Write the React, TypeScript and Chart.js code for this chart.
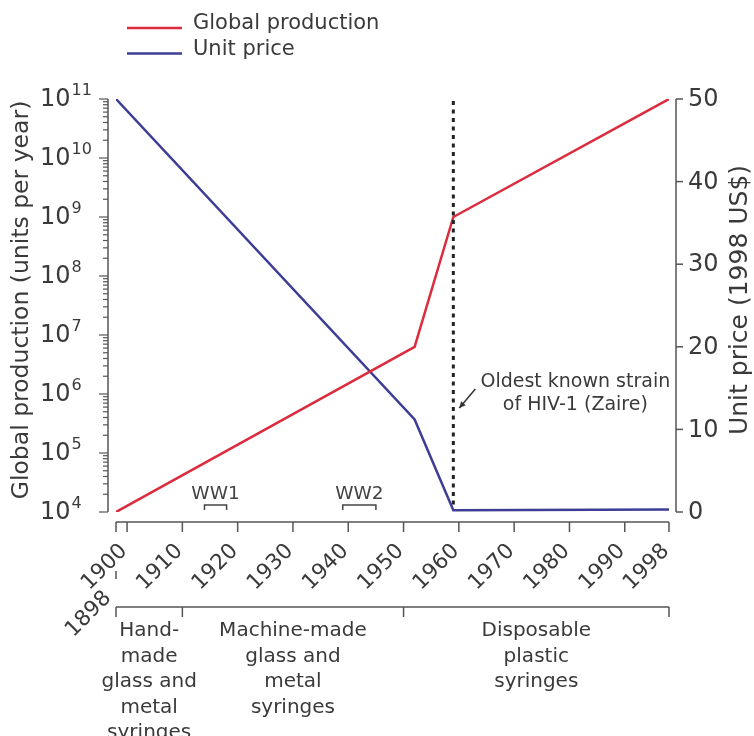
import React, { useEffect, useRef } from 'react';
import { Chart, registerables } from 'chart.js';

Chart.register(...registerables);

// ---- data ----
const years = [1898, 1952, 1959, 1998];
const productionValues = [1e4, 6.3e6, 1e9, 1e11];
const priceValues = [50, 11.2, 0.2, 0.3];
const seriesLabels = ['Global production', 'Unit price'];
const seriesColors = ['#dc2b3d', '#3d3d96'];

const xTickValues = [1898, 1900, 1910, 1920, 1930, 1940, 1950, 1960, 1970, 1980, 1990, 1998];
const xTickLabels = ['1898', '1900', '1910', '1920', '1930', '1940', '1950', '1960', '1970', '1980', '1990', '1998'];
const leftTickExponents = [4, 5, 6, 7, 8, 9, 10, 11];
const rightTickValues = [0, 10, 20, 30, 40, 50];

const eraStarts = [1898, 1910, 1950];
const eraEnds = [1910, 1950, 1998];
const eraLabels = [
  ['Hand-', 'made', 'glass and', 'metal', 'syringes'],
  ['Machine-made', 'glass and', 'metal', 'syringes'],
  ['Disposable', 'plastic', 'syringes'],
];
const warLabels = ['WW1', 'WW2'];
const warStarts = [1914, 1939];
const warEnds = [1918, 1945];
const hivYear = 1959;
const hivNote = ['Oldest known strain', 'of HIV-1 (Zaire)'];

const leftTitle = 'Global production (units per year)';
const rightTitle = 'Unit price (1998 US$)';

const FONT = '"DejaVu Sans", sans-serif';
const TEXT = '#3a3a3a';
const AXIS = '#555555';

const decorPlugin = {
  id: 'decor',
  afterDatasetsDraw(chart: any) {
    const ctx = chart.ctx as CanvasRenderingContext2D;
    const xs = chart.scales.x;
    const ys = chart.scales.y;
    const ys1 = chart.scales.y1;
    const ca = chart.chartArea;
    ctx.save();

    // legend
    chart.data.datasets.forEach((ds: any, i: number) => {
      const ly = 28 + i * 25.5;
      ctx.strokeStyle = ds.borderColor;
      ctx.lineWidth = 2.5;
      ctx.beginPath();
      ctx.moveTo(127, ly);
      ctx.lineTo(182, ly);
      ctx.stroke();
      ctx.fillStyle = TEXT;
      ctx.font = `21px ${FONT}`;
      ctx.textAlign = 'left';
      ctx.textBaseline = 'middle';
      ctx.fillText(ds.label, 193, ly - 4);
    });

    ctx.strokeStyle = AXIS;
    ctx.lineWidth = 1.5;

    // left log axis
    const lx = ca.left - 8;
    const lTop = ys.getPixelForValue(Math.pow(10, leftTickExponents[leftTickExponents.length - 1]));
    const lBot = ys.getPixelForValue(Math.pow(10, leftTickExponents[0]));
    ctx.beginPath();
    ctx.moveTo(lx, lTop);
    ctx.lineTo(lx, lBot);
    ctx.stroke();
    ctx.lineWidth = 1.2;
    for (let k = 0; k < leftTickExponents.length; k++) {
      const e = leftTickExponents[k];
      const py = ys.getPixelForValue(Math.pow(10, e));
      ctx.beginPath();
      ctx.moveTo(lx, py);
      ctx.lineTo(lx - 9, py);
      ctx.stroke();
      if (k < leftTickExponents.length - 1) {
        for (let m = 2; m <= 9; m++) {
          const pm = ys.getPixelForValue(m * Math.pow(10, e));
          ctx.beginPath();
          ctx.moveTo(lx, pm);
          ctx.lineTo(lx - 5, pm);
          ctx.stroke();
        }
      }
      ctx.fillStyle = TEXT;
      ctx.textAlign = 'left';
      ctx.textBaseline = 'middle';
      ctx.font = `24px ${FONT}`;
      ctx.fillText('10', 40, py + 1);
      const w = ctx.measureText('10').width;
      ctx.font = `16px ${FONT}`;
      ctx.fillText(String(e), 40 + w + 1, py - 8);
    }

    // right linear axis
    const rx = ca.right + 7;
    ctx.lineWidth = 1.5;
    ctx.beginPath();
    ctx.moveTo(rx, ys1.getPixelForValue(rightTickValues[rightTickValues.length - 1]));
    ctx.lineTo(rx, ys1.getPixelForValue(rightTickValues[0]));
    ctx.stroke();
    rightTickValues.forEach((v) => {
      const py = ys1.getPixelForValue(v);
      ctx.beginPath();
      ctx.moveTo(rx, py);
      ctx.lineTo(rx + 7, py);
      ctx.stroke();
      ctx.fillStyle = TEXT;
      ctx.font = `24px ${FONT}`;
      ctx.textAlign = 'left';
      ctx.textBaseline = 'middle';
      ctx.fillText(String(v), rx + 12, py + 1);
    });

    // axis titles
    ctx.fillStyle = TEXT;
    ctx.font = `23.5px ${FONT}`;
    ctx.textAlign = 'center';
    ctx.textBaseline = 'middle';
    ctx.save();
    ctx.translate(22, 300);
    ctx.rotate(-Math.PI / 2);
    ctx.fillText(leftTitle, 0, 0);
    ctx.restore();
    ctx.save();
    ctx.translate(740, 300);
    ctx.rotate(-Math.PI / 2);
    ctx.font = `25px ${FONT}`;
    ctx.fillText(rightTitle, 0, 0);
    ctx.restore();

    // x axis
    const ay = ca.bottom + 10;
    ctx.strokeStyle = AXIS;
    ctx.lineWidth = 1.5;
    ctx.beginPath();
    ctx.moveTo(xs.getPixelForValue(xTickValues[0]), ay);
    ctx.lineTo(xs.getPixelForValue(xTickValues[xTickValues.length - 1]), ay);
    ctx.stroke();
    xTickValues.forEach((v, i) => {
      const px = xs.getPixelForValue(v);
      ctx.beginPath();
      ctx.moveTo(px, ay);
      ctx.lineTo(px, ay + 10);
      ctx.stroke();
      let lxp = px - 3;
      let lyp = ay + 26;
      if (i === 0) {
        // staggered first label with leader dash
        ctx.beginPath();
        ctx.moveTo(px, ay + 49);
        ctx.lineTo(px, ay + 57);
        ctx.stroke();
        lxp = px - 8;
        lyp = ay + 73;
      }
      ctx.save();
      ctx.translate(lxp, lyp);
      ctx.rotate(-Math.PI / 4);
      ctx.fillStyle = TEXT;
      ctx.font = `21.5px ${FONT}`;
      ctx.textAlign = 'right';
      ctx.textBaseline = 'middle';
      ctx.fillText(xTickLabels[i], 0, 0);
      ctx.restore();
    });

    // war brackets
    warLabels.forEach((lab, i) => {
      const x0 = xs.getPixelForValue(warStarts[i]);
      const x1 = xs.getPixelForValue(warEnds[i]);
      const by = ca.bottom - 7;
      ctx.strokeStyle = '#444';
      ctx.lineWidth = 1.5;
      ctx.beginPath();
      ctx.moveTo(x0, by + 5);
      ctx.lineTo(x0, by);
      ctx.lineTo(x1, by);
      ctx.lineTo(x1, by + 5);
      ctx.stroke();
      ctx.fillStyle = '#444';
      ctx.font = `18.5px ${FONT}`;
      ctx.textAlign = 'center';
      ctx.textBaseline = 'middle';
      ctx.fillText(lab, (x0 + x1) / 2, ca.bottom - 18);
    });

    // era brackets
    const ey = 607;
    ctx.strokeStyle = AXIS;
    ctx.lineWidth = 1.5;
    ctx.beginPath();
    ctx.moveTo(xs.getPixelForValue(eraStarts[0]), ey);
    ctx.lineTo(xs.getPixelForValue(eraEnds[eraEnds.length - 1]), ey);
    ctx.stroke();
    const bounds = [...eraStarts, eraEnds[eraEnds.length - 1]];
    bounds.forEach((b) => {
      const px = xs.getPixelForValue(b);
      ctx.beginPath();
      ctx.moveTo(px, ey);
      ctx.lineTo(px, ey + 10);
      ctx.stroke();
    });
    eraLabels.forEach((lines, i) => {
      const cx = (xs.getPixelForValue(eraStarts[i]) + xs.getPixelForValue(eraEnds[i])) / 2;
      ctx.fillStyle = TEXT;
      ctx.font = `20px ${FONT}`;
      ctx.textAlign = 'center';
      ctx.textBaseline = 'middle';
      lines.forEach((t, j) => ctx.fillText(t, cx, 631 + j * 25.5));
    });

    // HIV dashed line
    const hx = xs.getPixelForValue(hivYear);
    ctx.strokeStyle = '#222';
    ctx.lineWidth = 3;
    ctx.setLineDash([4, 4.5]);
    ctx.beginPath();
    ctx.moveTo(hx, ca.top + 2);
    ctx.lineTo(hx, ca.bottom - 6);
    ctx.stroke();
    ctx.setLineDash([]);

    // annotation
    ctx.fillStyle = TEXT;
    ctx.font = `19px ${FONT}`;
    ctx.textAlign = 'center';
    ctx.textBaseline = 'middle';
    ctx.fillText(hivNote[0], hx + 122, 382);
    ctx.fillText(hivNote[1], hx + 122, 405);
    // arrow
    const ax0 = hx + 22, ay0 = 389, ax1 = hx + 6, ay1 = 408;
    ctx.strokeStyle = '#333';
    ctx.lineWidth = 1.5;
    ctx.beginPath();
    ctx.moveTo(ax0, ay0);
    ctx.lineTo(ax1, ay1);
    ctx.stroke();
    const ang = Math.atan2(ay1 - ay0, ax1 - ax0);
    ctx.fillStyle = '#333';
    ctx.beginPath();
    ctx.moveTo(ax1, ay1);
    ctx.lineTo(ax1 - 7 * Math.cos(ang - 0.45), ay1 - 7 * Math.sin(ang - 0.45));
    ctx.lineTo(ax1 - 7 * Math.cos(ang + 0.45), ay1 - 7 * Math.sin(ang + 0.45));
    ctx.closePath();
    ctx.fill();

    ctx.restore();
  },
};

export default function App() {
  const canvasRef = useRef<HTMLCanvasElement | null>(null);

  useEffect(() => {
    const canvas = canvasRef.current;
    if (!canvas) return;
    const chart = new Chart(canvas, {
      type: 'line',
      data: {
        datasets: [
          {
            label: seriesLabels[0],
            data: years.map((yr, i) => ({ x: yr, y: productionValues[i] })),
            borderColor: seriesColors[0],
            backgroundColor: seriesColors[0],
            borderWidth: 2.5,
            pointRadius: 0,
            tension: 0,
            yAxisID: 'y',
          },
          {
            label: seriesLabels[1],
            data: years.map((yr, i) => ({ x: yr, y: priceValues[i] })),
            borderColor: seriesColors[1],
            backgroundColor: seriesColors[1],
            borderWidth: 2.5,
            pointRadius: 0,
            tension: 0,
            yAxisID: 'y1',
          },
        ],
      },
      options: {
        responsive: false,
        animation: false,
        devicePixelRatio: 1,
        layout: { padding: { left: 116, right: 85, top: 99, bottom: 224 } },
        plugins: { legend: { display: false }, tooltip: { enabled: false } },
        scales: {
          x: { type: 'linear', min: 1898, max: 1998, display: false },
          y: { type: 'logarithmic', min: 1e4, max: 1e11, display: false },
          y1: { type: 'linear', min: 0, max: 50, display: false },
        },
      },
      plugins: [decorPlugin],
    });
    return () => chart.destroy();
  }, []);

  return (
    <div style={{ position: 'absolute', left: 0, top: 0, width: 754, height: 736, background: '#fff' }}>
      <canvas ref={canvasRef} width={754} height={736} />
    </div>
  );
}
